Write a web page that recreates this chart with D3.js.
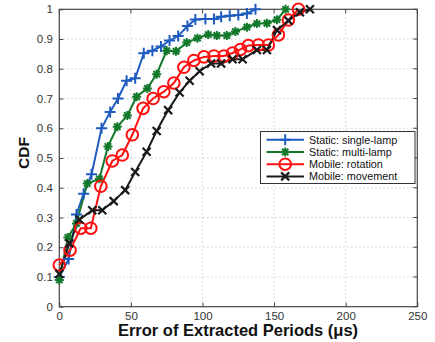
<!DOCTYPE html>
<html><head><meta charset="utf-8">
<script src="https://cdn.jsdelivr.net/npm/d3@7"></script>
<style>body{margin:0;background:#fff}</style>
</head><body>
<svg id="c" width="435" height="342"></svg>
<script>
const xTicks = [0, 50, 100, 150, 200, 250];
const yTicks = [0, 0.1, 0.2, 0.3, 0.4, 0.5, 0.6, 0.7, 0.8, 0.9, 1];
const seriesNames = ["Static: single-lamp", "Static: multi-lamp", "Mobile: rotation", "Mobile: movement"];
const singleLamp = [[0,0.10],[6.5,0.16],[12,0.31],[17,0.38],[22.5,0.445],[29.5,0.60],[35.5,0.655],[41,0.70],[47,0.76],[53,0.768],[59,0.852],[65,0.861],[71,0.875],[77,0.895],[83,0.91],[89.5,0.944],[95,0.966],[102,0.967],[108,0.967],[113,0.975],[119,0.978],[125,0.981],[131,0.986],[137,1.0]];
const multiLamp = [[0,0.09],[6,0.233],[12,0.28],[19.5,0.414],[28,0.43],[34,0.539],[40.5,0.605],[47.5,0.643],[54,0.706],[61.5,0.734],[68,0.782],[75,0.861],[81.5,0.859],[89,0.888],[96.5,0.903],[104,0.915],[110,0.912],[117,0.912],[123,0.925],[131,0.94],[138,0.952],[145,0.953],[152,0.965],[158,1.0]];
const rotation = [[0,0.14],[7.5,0.19],[15,0.264],[22,0.264],[29,0.405],[37,0.49],[44,0.51],[51,0.578],[58.5,0.667],[65.5,0.70],[73,0.723],[80,0.752],[87,0.805],[94,0.828],[101,0.84],[108,0.843],[115,0.843],[121,0.853],[126.5,0.865],[132,0.878],[139,0.88],[146,0.88],[153,0.914],[160,0.964],[167,1.0]];
const movement = [[0,0.11],[7,0.213],[14,0.293],[23,0.324],[30,0.324],[38,0.355],[46,0.392],[53,0.453],[61,0.521],[68,0.591],[76,0.661],[84,0.72],[91,0.76],[98,0.792],[106,0.818],[113,0.818],[121,0.832],[128,0.832],[138,0.863],[145,0.863],[152,0.93],[160,0.962],[168,0.99],[175,1.0]];
const colors = ["#1f5cc0", "#12782a", "#ff1010", "#1a1a1a"];
const markers = ["plus", "star", "circle", "cross"];

const allSeries = [singleLamp, multiLamp, rotation, movement];
const svg = d3.select("#c");
const m = {l: 59.3, r: 417.3, t: 9.3, b: 306.7};
const x = d3.scaleLinear().domain([0, 250]).range([m.l, m.r]);
const y = d3.scaleLinear().domain([0, 1]).range([m.b, m.t]);
const font = "Liberation Sans, Arial, Helvetica, sans-serif";

// grid
const g = svg.append("g");
g.selectAll(".gx").data(xTicks.slice(1, -1)).enter().append("line")
  .attr("x1", d => x(d)).attr("x2", d => x(d)).attr("y1", m.t).attr("y2", m.b)
  .attr("stroke", "#b8b8b8").attr("stroke-width", 1).attr("stroke-dasharray", "1,3");
g.selectAll(".gy").data(yTicks.slice(1, -1)).enter().append("line")
  .attr("y1", d => y(d)).attr("y2", d => y(d)).attr("x1", m.l).attr("x2", m.r)
  .attr("stroke", "#b8b8b8").attr("stroke-width", 1).attr("stroke-dasharray", "1,3");

// axes
const xAxis = d3.axisBottom(x).tickValues(xTicks).tickSize(-4).tickPadding(5).tickFormat(d3.format("d"));
const yAxis = d3.axisLeft(y).tickValues(yTicks).tickSize(-4).tickPadding(6.5).tickFormat(d => d === 0 || d === 1 ? String(d) : d3.format(".1f")(d));
const ax = svg.append("g").attr("transform", `translate(0,${m.b})`).call(xAxis);
const ay = svg.append("g").attr("transform", `translate(${m.l},0)`).call(yAxis);
[ax, ay].forEach(a => {
  a.select(".domain").remove();
  a.selectAll("line").attr("stroke", "#444");
  a.selectAll("text").attr("fill", "#333").style("font-family", font).style("font-size", "11.5px");
});
// top/right ticks
svg.selectAll(".tt").data(xTicks).enter().append("line")
  .attr("x1", d => x(d)).attr("x2", d => x(d)).attr("y1", m.t).attr("y2", m.t + 4).attr("stroke", "#444");
svg.selectAll(".tr").data(yTicks).enter().append("line")
  .attr("y1", d => y(d)).attr("y2", d => y(d)).attr("x1", m.r).attr("x2", m.r - 4).attr("stroke", "#444");

svg.append("rect").attr("x", m.l).attr("y", m.t).attr("width", m.r - m.l).attr("height", m.b - m.t)
  .attr("fill", "none").attr("stroke", "#444").attr("stroke-width", 1.2);

// marker drawing
function drawMarker(sel, type, color) {
  if (type === "plus") {
    sel.append("path").attr("d", "M-5.5,0H5.5M0,-5.5V5.5").attr("stroke", color).attr("stroke-width", 2).attr("fill", "none");
  } else if (type === "star") {
    const r = 4.5, r2 = 3.2;
    sel.append("path").attr("d", `M-${r},0H${r}M0,-${r}V${r}M-${r2},-${r2}L${r2},${r2}M-${r2},${r2}L${r2},-${r2}`)
      .attr("stroke", color).attr("stroke-width", 2).attr("fill", "none");
  } else if (type === "circle") {
    sel.append("circle").attr("r", 5.8).attr("stroke", color).attr("stroke-width", 2).attr("fill", "none");
  } else {
    const r = 4;
    sel.append("path").attr("d", `M-${r},-${r}L${r},${r}M-${r},${r}L${r},-${r}`).attr("stroke", color).attr("stroke-width", 2.2).attr("fill", "none");
  }
}

const line = d3.line().x(d => x(d[0])).y(d => y(d[1]));
allSeries.forEach((s, i) => {
  svg.append("path").datum(s).attr("d", line).attr("fill", "none").attr("stroke", colors[i]).attr("stroke-width", 2);
});
allSeries.forEach((s, i) => {
  svg.append("g").selectAll("g").data(s).enter().append("g")
    .attr("transform", d => `translate(${x(d[0])},${y(d[1])})`)
    .each(function() { drawMarker(d3.select(this), markers[i], colors[i]); });
});

// legend
const lg = svg.append("g");
lg.append("rect").attr("x", 260.5).attr("y", 131.5).attr("width", 154.5).attr("height", 52)
  .attr("fill", "#fff").attr("stroke", "#333").attr("stroke-width", 1);
seriesNames.forEach((n, i) => {
  const yy = 139.8 + i * 12.2;
  lg.append("line").attr("x1", 266.5).attr("x2", 304).attr("y1", yy).attr("y2", yy).attr("stroke", colors[i]).attr("stroke-width", 2);
  const mg = lg.append("g").attr("transform", `translate(285.2,${yy})`);
  drawMarker(mg, markers[i], colors[i]);
  lg.append("text").attr("x", 309).attr("y", yy + 4).text(n)
    .style("font-family", font).style("font-size", "10.8px").attr("fill", "#111");
});

// axis labels
svg.append("text").attr("x", 238).attr("y", 335.5).attr("text-anchor", "middle")
  .style("font-family", font).style("font-size", "16.5px").style("font-weight", "bold").attr("fill", "#111")
  .text("Error of Extracted Periods (\u03bcs)");
svg.append("text").attr("transform", "translate(29,153) rotate(-90)").attr("text-anchor", "middle")
  .style("font-family", font).style("font-size", "15.5px").style("font-weight", "bold").attr("fill", "#111")
  .text("CDF");
</script>
</body></html>
